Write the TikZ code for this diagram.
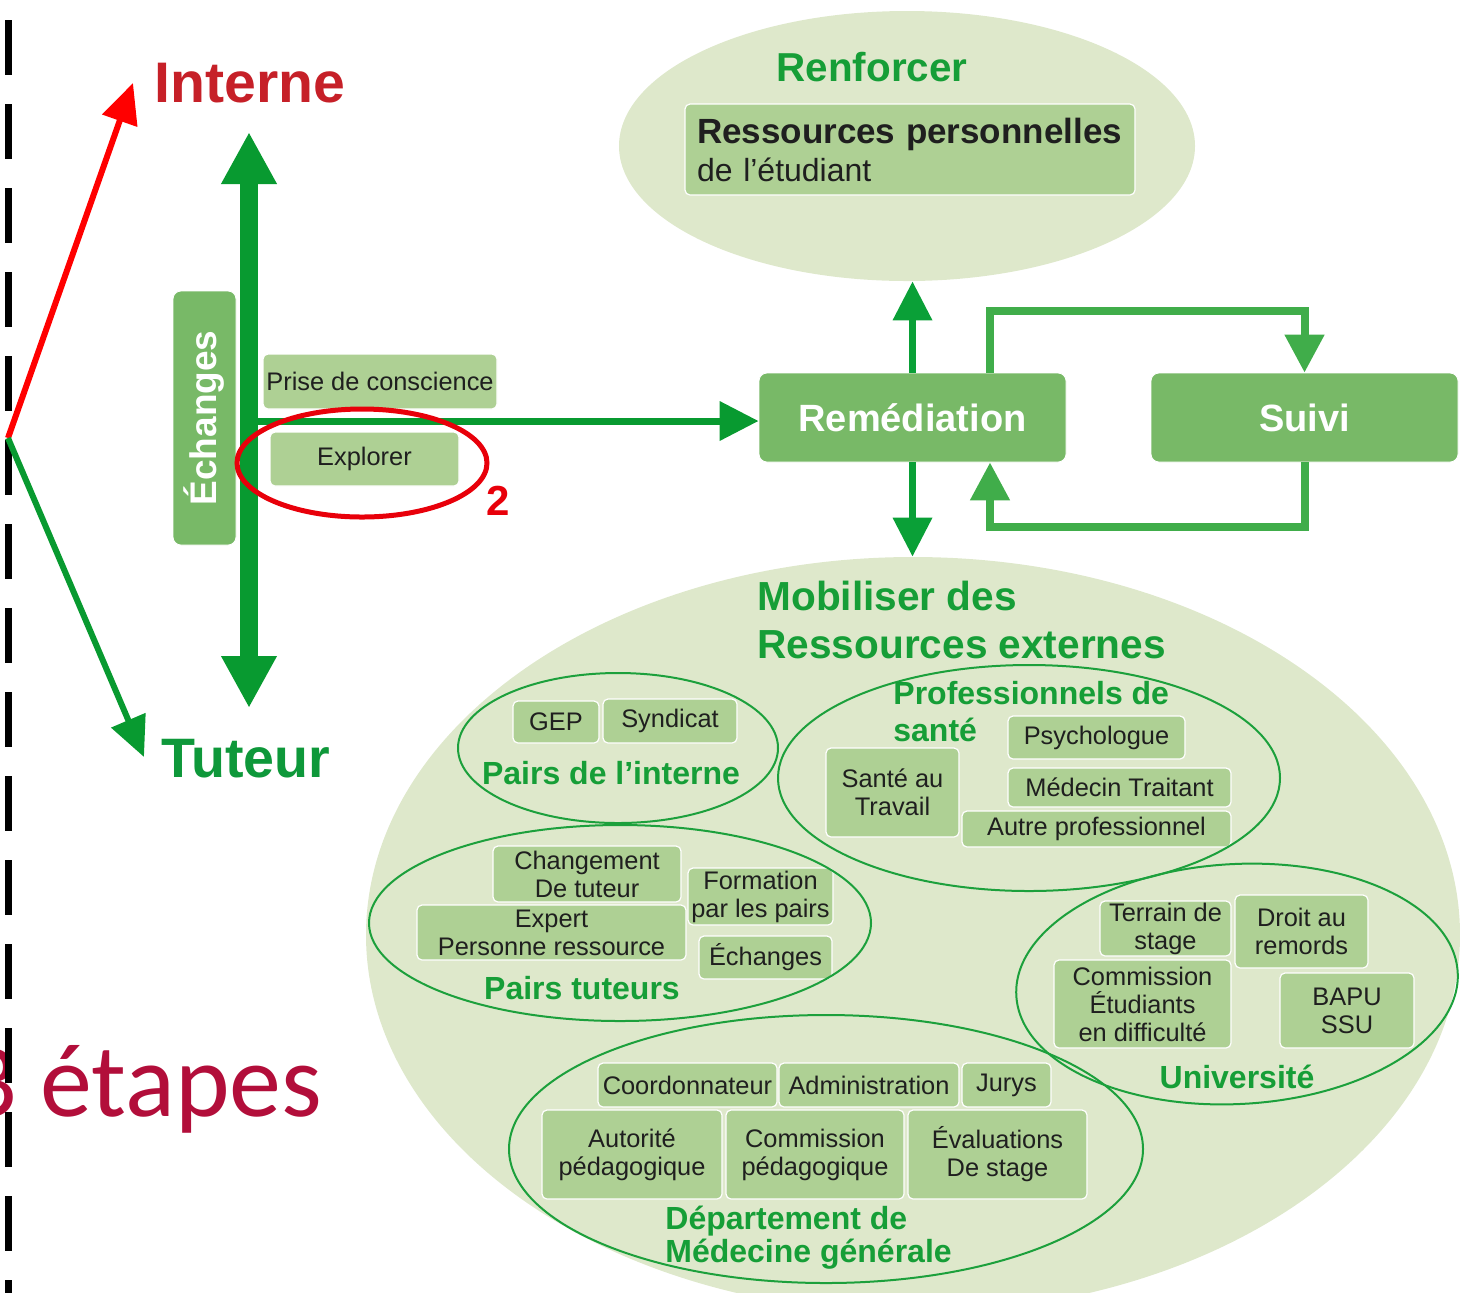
\documentclass[tikz,border=0pt]{standalone}
\usepackage{fontspec}
\setmainfont{Liberation Sans}
\newfontfamily\carlitofont{Carlito}
\usetikzlibrary{arrows.meta,shapes.geometric,calc}
\definecolor{bgl}{RGB}{222,232,203}
\definecolor{boxl}{RGB}{174,208,148}
\definecolor{boxm}{RGB}{120,185,103}
\definecolor{dkg}{RGB}{8,154,48}
\definecolor{arg}{RGB}{10,160,55}
\definecolor{lpg}{RGB}{64,173,74}
\definecolor{olg}{RGB}{28,160,60}
\definecolor{txg}{RGB}{22,158,55}
\definecolor{tug}{RGB}{14,152,58}
\definecolor{intred}{RGB}{198,32,40}
\definecolor{etred}{RGB}{178,14,58}
\definecolor{hired}{RGB}{232,0,10}
\begin{document}
\begin{tikzpicture}[x=0.5pt,y=-0.5pt,
  sz/.style 2 args={minimum width=#1*0.5pt,minimum height=#2*0.5pt},
  lbox/.style={draw=white,line width=0.6pt,fill=boxl,rounded corners=2.5pt,inner sep=0pt,align=center,text=black!88,font=\fontsize{12.7}{14}\selectfont},
  mbox/.style={draw=white,line width=0.4pt,fill=boxm,rounded corners=4pt,inner sep=0pt,text=white,font=\bfseries\fontsize{19}{22}\selectfont},
  grp/.style={ellipse,draw=olg,line width=1pt,inner sep=0pt},
  lab/.style={text=txg,inner sep=0pt,align=left,font=\bfseries\fontsize{16}{18.5}\selectfont},
  head/.style={text=txg,inner sep=0pt,align=left,font=\bfseries\fontsize{20.3}{24}\selectfont},
  bigarrow/.style={dkg,line width=9pt,{Triangle[width=26pt,length=26pt]}-{Triangle[width=26pt,length=26pt]}},
  midarrow/.style={line width=3.5pt,-{Triangle[width=19pt,length=19.5pt]}},
  looparrow/.style={lpg,line width=4pt,-{Triangle[width=19pt,length=19pt]}},
  thinarrow/.style={line width=3pt,-{Triangle[width=18pt,length=20pt]}}
]
\useasboundingbox (0,0) rectangle (1460,1292);
\clip (0,0) rectangle (1460,1292);

% background ellipses
\node[ellipse,fill=bgl,inner sep=0pt,sz={576}{270}] (renf) at (907,146) {};
\node[ellipse,fill=bgl,inner sep=0pt,sz={1094}{756}] (mob) at (913,935) {};

% Renforcer
\node[text=txg,inner sep=0pt,font=\bfseries\fontsize{20.2}{22}\selectfont] (renft) at (872,67) {Renforcer};
\node[lbox,sz={450}{91},text width=213pt,align=left,font=\fontsize{16}{19}\selectfont] (ress) at (910,149.5)
  {{\bfseries\fontsize{17.5}{19}\selectfont Ressources personnelles}\\de l’étudiant};

% Mobiliser heading
\node[head,anchor=west] (mobt) at (757,620) {Mobiliser des\\Ressources externes};

% boxes: Pairs de l'interne
\node[lbox,sz={86}{42}] (gep) at (556,722) {GEP};
\node[lbox,sz={134}{44}] (synd) at (670,721) {Syndicat};
% Pairs tuteurs
\node[lbox,sz={188}{56}] (chg) at (587,874) {Changement\\De tuteur};
\node[lbox,sz={269}{55}] (expert) at (551.5,932.5) {Expert\\Personne ressource};
\node[lbox,sz={145}{57}] (form) at (760.5,896.5) {Formation\\par les pairs};
\node[lbox,sz={133}{43}] (echs) at (765.5,957.5) {Échanges};
% Professionnels de sante
\node[lbox,sz={177}{43}] (psy) at (1096.5,737.5) {Psychologue};
\node[lbox,sz={133}{89}] (sante) at (892.5,792.5) {Santé au\\Travail};
\node[lbox,sz={223}{39}] (medt) at (1119.5,787.5) {Médecin Traitant};
\node[lbox,sz={269}{36}] (autre) at (1096.5,829) {Autre professionnel};
% Universite
\node[lbox,sz={131}{55}] (terrain) at (1165.5,928.5) {Terrain de\\stage};
\node[lbox,sz={133}{73}] (droit) at (1301.5,931.5) {Droit au\\remords};
\node[lbox,sz={177}{88}] (comm) at (1142.5,1004) {Commission\\Étudiants\\en difficulté};
\node[lbox,sz={134}{75}] (bapu) at (1347,1010.5) {BAPU\\SSU};
% Departement
\node[lbox,sz={179}{44}] (coord) at (687.5,1085) {Coordonnateur};
\node[lbox,sz={180}{44}] (admin) at (869,1085) {Administration};
\node[lbox,sz={89}{44}] (jurys) at (1006.5,1085) {Jurys};
\node[lbox,sz={180}{89}] (autor) at (632,1154.5) {Autorité\\pédagogique};
\node[lbox,sz={178}{89}] (commp) at (815,1154.5) {Commission\\pédagogique};
\node[lbox,sz={179}{89}] (evals) at (997.5,1154.5) {Évaluations\\De stage};

% group outlines
\node[grp,sz={320}{150}] (gpi) at (618,748) {};
\node[grp,sz={502}{196}] (gpt) at (620,923) {};
\node[grp,sz={502}{226}] (gps) at (1029,778) {};
\node[grp,sz={442}{240},rotate=3] (gpu) at (1237,984) {};
\node[grp,sz={634}{268}] (gpd) at (826,1149) {};

% group labels
\node[lab] (lpi) at (611,773) {Pairs de l’interne};
\node[lab] (lpt) at (582,988) {Pairs tuteurs};
\node[lab,anchor=west] (lps) at (893,712) {Professionnels de\\santé};
\node[lab] (lpu) at (1237,1077) {Université};
\node[lab,anchor=west,font=\bfseries\fontsize{16}{16.5}\selectfont] (lpd) at (665,1238) {Département de\\Médecine générale};

% left part
\node[mbox,rotate=90,sz={254}{63},font=\bfseries\fontsize{18.5}{20}\selectfont] (echv) at (204.5,418) {Échanges};
\node[lbox,sz={234}{55}] (prise) at (380,381.5) {Prise de conscience};
\node[lbox,sz={189}{54}] (explo) at (364.5,459) {Explorer};
\coordinate (vtop) at (249,132);
\coordinate (vbot) at (249,708);
\coordinate (hstart) at (249,421);
\draw[bigarrow] (vbot) -- (vtop);

% Remediation and Suivi
\node[mbox,sz={307}{89}] (remed) at (912.5,417.5) {Remédiation};
\node[mbox,sz={307}{89}] (suivi) at (1304.5,417.5) {Suivi};
\draw[dkg,midarrow] (hstart) -- (remed.west |- hstart);
\draw[arg,midarrow] (remed.north) -- (remed.north |- renf.south);
\draw[arg,midarrow] (remed.south) -- (remed.south |- mob.north);
\draw[looparrow] ($(remed.north)+(77.5,0)$) |- ($(suivi.north)+(0,-62)$) -- (suivi.north);
\draw[looparrow] (suivi.south) -- ($(suivi.south)+(0,65)$) -| ($(remed.south)+(77.5,0)$);

% highlight
\node[ellipse,draw=hired,line width=2.5pt,inner sep=0pt,sz={250}{108}] (hl) at (362,463) {};
\node[text=hired,inner sep=0pt,font=\bfseries\fontsize{21}{22}\selectfont] (two) at (498,501) {2};

% titles
\node[anchor=base west,inner sep=0pt,text=intred,font=\bfseries\fontsize{28.6}{30}\selectfont] (interne) at (154,102) {Interne};
\node[anchor=base west,inner sep=0pt,text=tug,font=\bfseries\fontsize{27.8}{30}\selectfont] (tuteur) at (161,777) {Tuteur};
\node[anchor=base west,inner sep=0pt,text=etred,font=\carlitofont\fontsize{52}{60}\selectfont] (etapes) at (-36,1116) {3 étapes};

% dashed separator
\coordinate (dtop) at (8,20);
\coordinate (dbot) at (8,1310);
\draw[black,line width=3.5pt,dash pattern=on 27.5pt off 14.5pt] (dtop) -- (dbot);

% Interne / Tuteur arrows
\coordinate (orig) at (8,438);
\coordinate (intip) at (133,83);
\coordinate (tutip) at (144,757);
\draw[red,thinarrow] (orig) -- (intip);
\draw[dkg,thinarrow] (orig) -- (tutip);
\end{tikzpicture}
\end{document}
